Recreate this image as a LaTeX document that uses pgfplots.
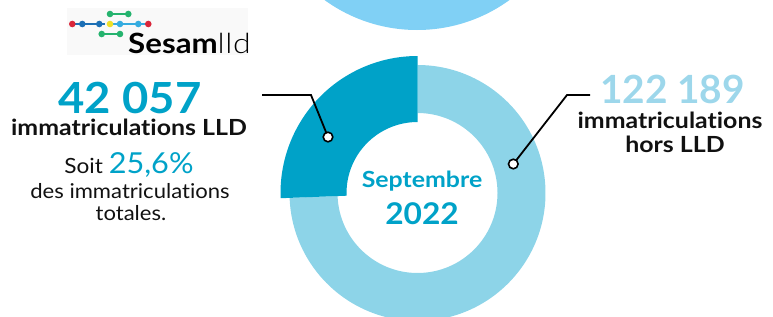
\documentclass[border=0pt]{standalone}
\usepackage{fontspec}
\setmainfont{Lato}[Ligatures=NoCommon,FakeStretch=1.12]
\newfontfamily\latolight{Lato Light}[Ligatures=NoCommon,FakeStretch=1.15]
\newfontfamily\latoreg{Lato}[Ligatures=NoCommon,FakeStretch=1.08]
\newfontfamily\latonum{Lato}[FakeStretch=1.06]
\newfontfamily\latonumb{Lato}[FakeStretch=1.0]
\usepackage{pgfplots}
\pgfplotsset{compat=1.18}
\definecolor{darkc}{HTML}{00A2C8}
\definecolor{lightc}{HTML}{8DD4E8}
\definecolor{lighttxt}{HTML}{9DD7EB}
\definecolor{topc}{HTML}{80D0F5}
\definecolor{txt}{HTML}{111111}
\definecolor{lred}{HTML}{D9263A}
\definecolor{lblue}{HTML}{1B6FB5}
\definecolor{lsky}{HTML}{35ACE0}
\definecolor{lyel}{HTML}{F0E028}
\definecolor{lgreen}{HTML}{25B36E}
\def\lld{42057}
\def\hors{122189}
\edef\angLLD{\fpeval{360*\lld/(\lld+\hors)}}
\edef\aEnd{\fpeval{90+\angLLD}}
\begin{document}
\begin{tikzpicture}[x=1bp,y=1bp]
\begin{axis}[x=1bp,y=1bp,xmin=0,xmax=773,ymin=0,ymax=316,hide axis,clip=true,scale only axis]
% partial circle on top (from chart above)
\fill[topc] (axis cs:417,443.6) circle[radius=157.6bp];
% light ring: hors LLD
\fill[lightc] (axis cs:417.5,123) ++(\aEnd:128bp) arc[start angle=\aEnd,end angle=450,radius=128bp]
  -- (axis cs:417.5,203) arc[start angle=450,end angle=\aEnd,radius=80bp] -- cycle;
% dark wedge: LLD
\fill[darkc] (axis cs:417.5,194) -- (axis cs:417.5,260) arc[start angle=90,end angle=\aEnd,radius=137bp]
  -- ([shift={(\aEnd:71bp)}]axis cs:417.5,123) arc[start angle=\aEnd,end angle=90,radius=71bp] -- cycle;
\end{axis}
% logo
\fill[gray!5] (67,261) rectangle (248,308);
\draw[lblue,line width=1.3bp] (72.3,292) -- (105,292);
\draw[lsky,line width=1.3bp] (110,292) -- (148.3,292);
\draw[lgreen,line width=1.3bp] (110,302) -- (128.3,302);
\draw[lgreen,line width=1.3bp] (101.7,282) -- (120,282);
\foreach \xx/\cc in {72.3/lred,82.3/lblue,99.3/lblue,110/lyel,120/lsky,138.3/lsky,148.3/lred}
  \fill[\cc] (\xx,292) circle[radius=3.3bp];
\fill[lgreen] (110,302) circle[radius=3.3bp];
\fill[lgreen] (128.3,302) circle[radius=3.3bp];
\fill[lgreen] (101.7,282) circle[radius=3.3bp];
\fill[lgreen] (120,282) circle[radius=3.3bp];
\node[anchor=base west,inner sep=0pt,text=black] at (128,263) {\fontsize{28}{28}\selectfont\bfseries Sesam{\latolight\mdseries l\hspace{0.6bp}l\hspace{0.6bp}d}};
% left texts
\node[anchor=base,inner sep=0pt,text=darkc] at (130,203) {\fontsize{43}{43}\selectfont\latonum\bfseries 42 057};
\node[anchor=base,inner sep=0pt,text=txt] at (129,181) {\fontsize{22.3}{22}\selectfont\bfseries immatriculations LLD};
\node[anchor=base,inner sep=0pt,text=txt] at (129,143) {\fontsize{21}{21}\selectfont\latoreg Soit \textcolor{darkc}{\fontsize{29}{29}\selectfont\latonum 25,6\%}};
\node[anchor=base,inner sep=0pt,text=txt] at (130,118) {\fontsize{20.5}{21}\selectfont\latoreg des immatriculations};
\node[anchor=base,inner sep=0pt,text=txt] at (131,96) {\fontsize{20.5}{21}\selectfont\latoreg totales.};
% right texts
\node[anchor=base,inner sep=0pt,text=lighttxt] at (672.5,213) {\fontsize{39}{39}\selectfont\latonumb\bfseries 122 189};
\node[anchor=base,inner sep=0pt,text=txt] at (670,188) {\fontsize{22.3}{22}\selectfont\bfseries immatriculations};
\node[anchor=base,inner sep=0pt,text=txt] at (675,164) {\fontsize{22.3}{22}\selectfont\bfseries hors LLD};
% center
\node[anchor=base,inner sep=0pt,text=darkc] at (422,129) {\fontsize{22.3}{22}\selectfont\bfseries Septembre};
\node[anchor=base,inner sep=0pt,text=darkc] at (422,92) {\fontsize{30}{30}\selectfont\latonum\bfseries 2022};
% leader lines
\draw[black,line width=1.8bp] (262,221) -- (311,221) -- (328,179);
\filldraw[fill=white,draw=black,line width=1.6bp] (328,179) circle[radius=4.8bp];
\draw[black,line width=1.8bp] (590,221) -- (567,221) -- (513.3,152);
\filldraw[fill=white,draw=black,line width=1.6bp] (513.3,152) circle[radius=4.8bp];
\pgfresetboundingbox
\useasboundingbox (0,0) rectangle (773,316);
\end{tikzpicture}
\end{document}
